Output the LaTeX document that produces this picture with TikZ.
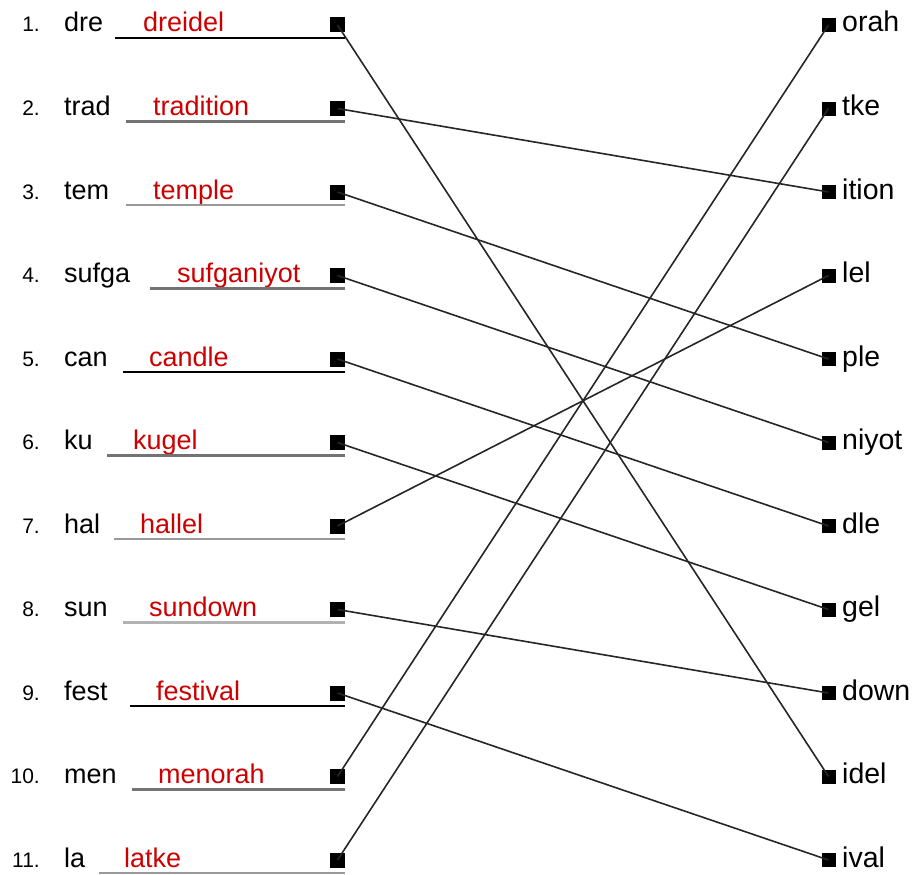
\documentclass[tikz,border=0pt]{standalone}
\usepackage{fontspec}
\setmainfont{Liberation Sans}
\definecolor{ansred}{HTML}{CC0000}
\begin{document}
\begin{tikzpicture}[x=1pt,y=1pt,
  numtxt/.style={anchor=base east,inner sep=0pt,font=\fontsize{21}{24}\selectfont},
  wordtxt/.style={anchor=base west,inner sep=0pt,font=\fontsize{27}{30}\selectfont},
  suftxt/.style={anchor=base west,inner sep=0pt,font=\fontsize{28.5}{31}\selectfont},
  anstxt/.style={anchor=base west,inner sep=0pt,text=ansred,font=\fontsize{27}{30}\selectfont},
  lsq/.style={fill=black,inner sep=0pt,minimum size=15pt},
  rsq/.style={fill=black,inner sep=0pt,minimum size=14pt},
  uline/.style={line width=2.4pt},
  link/.style={line width=1.6pt,black!85}]
\useasboundingbox (0,0) rectangle (918,-875);
% left column
\foreach \i/\pre/\ans/\ux/\ax/\uc in {
  1/dre/dreidel/115/143/black,
  2/trad/tradition/126/153/black!55,
  3/tem/temple/126/153/black!40,
  4/sufga/sufganiyot/150/177/black!55,
  5/can/candle/123/149/black,
  6/ku/kugel/107/133/black!55,
  7/hal/hallel/114/140/black!40,
  8/sun/sundown/123/149/black!30,
  9/fest/festival/130/156/black,
  10/men/menorah/132/158/black!55,
  11/la/latke/99/124/black!40}{
  \pgfmathsetmacro\y{-(25+83.5*(\i-1))}
  \node[numtxt] (N\i) at (40,\y-7) {\i.};
  \node[wordtxt] (W\i) at (64,\y-7) {\pre};
  \node[anstxt] (A\i) at (\ax,\y-7) {\ans};
  \coordinate (US\i) at (\ux,\y-13);
  \coordinate (UE\i) at (345,\y-13);
  \draw[uline,draw=\uc] (US\i) -- (UE\i);
  \node[lsq] (L\i) at (337.5,\y) {};
}
% right column
\foreach \j/\suf in {1/orah,2/tke,3/ition,4/lel,5/ple,6/niyot,7/dle,8/gel,9/down,10/idel,11/ival}{
  \pgfmathsetmacro\y{-(25+83.5*(\j-1))}
  \node[rsq] (R\j) at (828.5,\y) {};
  \node[suftxt] (S\j) at (842,\y-7) {\suf};
}
% connectors
\foreach \a/\b in {1/10,2/3,3/5,4/6,5/7,6/8,7/4,8/9,9/11,10/1,11/2}{
  \draw[link] (L\a.center) -- (R\b.center);
}
\end{tikzpicture}
\end{document}
